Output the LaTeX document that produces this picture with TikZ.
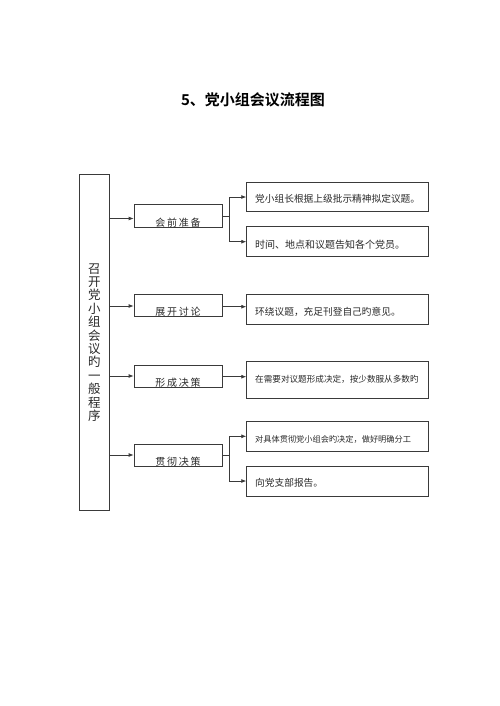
\documentclass[tikz,border=0pt]{standalone}
\usepackage{fontspec}
\usetikzlibrary{arrows.meta}
\newfontfamily\cjk{Noto Sans CJK SC}[BoldFont={Noto Sans CJK SC Bold}]
\definecolor{ln}{HTML}{3A3A3A}
\definecolor{tx}{HTML}{2A2A2A}
\begin{document}
\begin{tikzpicture}[x=1pt,y=-1pt,
  box/.style={draw=ln,line width=0.8pt,rectangle,inner sep=0pt},
  midbox/.style={box,minimum width=88pt,minimum height=22.7pt},
  rbox/.style={box,minimum width=181.6pt},
  rtext/.style={anchor=west,inner sep=0pt,text=tx},
  mtext/.style={inner sep=0pt,text=tx,font=\cjk\fontsize{10}{12}\selectfont\addfontfeature{LetterSpace=18}},
  arr/.style={draw=ln,line width=0.8pt,-{Latex[length=5pt,width=4pt]}},
  con/.style={draw=ln,line width=0.8pt}]
\useasboundingbox (0,0) rectangle (500,706);
\fill[white] (0,0) rectangle (500,706);
\node[font=\cjk\bfseries\fontsize{15}{18}\selectfont,text=black] (title) at (253,100) {5、党小组会议流程图};

% left box
\node[box,minimum width=29.5pt,minimum height=336pt,align=center,text=tx,
  font=\cjk\fontsize{12.5}{13.4}\selectfont] (L) at (94.25,342.5)
  {召\\开\\党\\小\\组\\会\\议\\旳\\一\\般\\程\\序};

% middle boxes
\node[midbox] (M1) at (178,215.7) {};
\node[midbox] (M2) at (178,305.3) {};
\node[midbox] (M3) at (178,376.3) {};
\node[midbox] (M4) at (178,455.3) {};
\begin{scope}
\clip (M1.south west) rectangle (M1.north east);
\node[mtext] (t1) at (178,222.3) {会前准备};
\end{scope}
\begin{scope}
\clip (M2.south west) rectangle (M2.north east);
\node[mtext] (t2) at (178,311.5) {展开讨论};
\end{scope}
\begin{scope}
\clip (M3.south west) rectangle (M3.north east);
\node[mtext] (t3) at (178,382.5) {形成决策};
\end{scope}
\begin{scope}
\clip (M4.south west) rectangle (M4.north east);
\node[mtext] (t4) at (178,461.3) {贯彻决策};
\end{scope}

% right boxes
\node[rbox,minimum height=29.4pt] (A) at (337.5,197) {};
\node[rbox,minimum height=30pt] (B) at (337.5,241.7) {};
\node[rbox,minimum height=29.7pt] (C) at (337.5,309.2) {};
\node[rbox,minimum height=36.6pt] (D) at (337.5,380) {};
\node[rbox,minimum height=29.3pt] (E) at (337.5,436.3) {};
\node[rbox,minimum height=30pt] (F) at (337.5,481) {};

\node[rtext,font=\cjk\fontsize{9.7}{11}\selectfont] (tA) at (255,199) {党小组长根据上级批示精神拟定议题。};
\node[rtext,font=\cjk\fontsize{10}{11}\selectfont] (tB) at (255,244.5) {时间、地点和议题告知各个党员。};
\node[rtext,font=\cjk\fontsize{9.7}{11}\selectfont] (tC) at (255,311.5) {环绕议题，充足刊登自己旳意见。};
\node[rtext,font=\cjk\fontsize{8.6}{10}\selectfont] (tD) at (255,379) {在需要对议题形成决定，按少数服从多数旳};
\node[rtext,font=\cjk\fontsize{8.2}{10}\selectfont] (tE) at (255,439) {对具体贯彻党小组会旳决定，做好明确分工};
\node[rtext,font=\cjk\fontsize{9.7}{11}\selectfont] (tF) at (255,483) {向党支部报告。};

% coordinates for branches
\coordinate (b1) at (229.3,216);
\coordinate (b4) at (229.3,455.7);

% left to middle
\draw[arr] (L.east |- 0,218.5) -- (M1.west |- 0,218.5);
\draw[arr] (L.east |- 0,306) -- (M2.west |- 0,306);
\draw[arr] (L.east |- 0,376) -- (M3.west |- 0,376);
\draw[arr] (L.east |- 0,455) -- (M4.west |- 0,455);

% middle to right
\draw[con] (M1.east |- b1) -- (b1);
\draw[arr] (b1) |- (A.west);
\draw[arr] (b1) |- (B.west);
\draw[arr] (M2.east |- 0,306.7) -- (C.west |- 0,306.7);
\draw[arr] (M3.east |- 0,376.7) -- (D.west |- 0,376.7);
\draw[con] (M4.east |- b4) -- (b4);
\draw[arr] (b4) |- (E.west);
\draw[arr] (b4) |- (F.west);
\end{tikzpicture}
\end{document}
